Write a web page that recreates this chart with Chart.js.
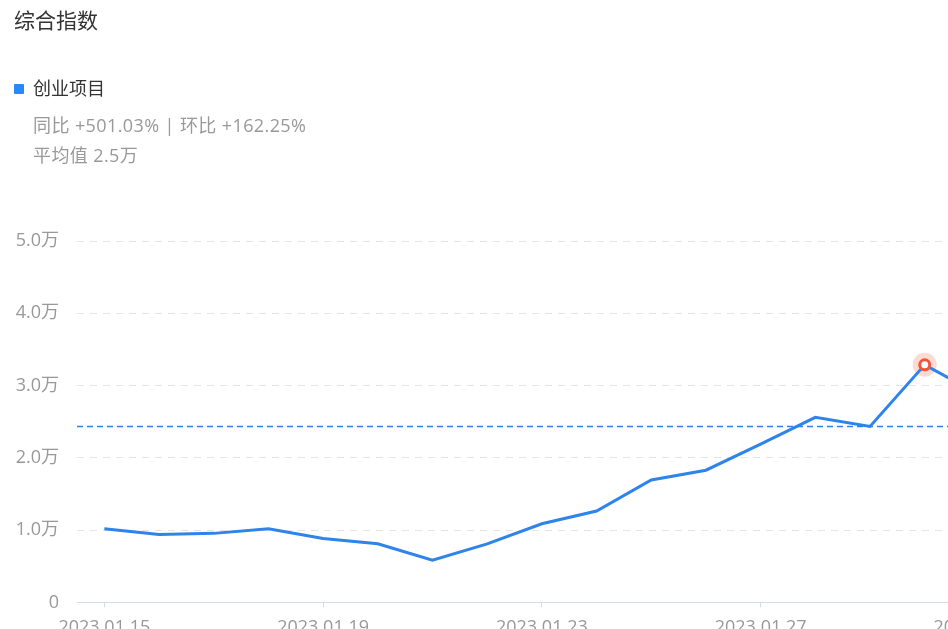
<!DOCTYPE html>
<html>
<head>
<meta charset="utf-8">
<script src="https://cdn.jsdelivr.net/npm/chart.js@4/dist/chart.umd.min.js"></script>
<style>
  body { margin: 0; width: 948px; height: 629px; overflow: hidden; background: #fff;
         font-family: "Open Sans", "Noto Sans CJK SC", sans-serif; position: relative; }
  .titulo { position: absolute; left: 14px; top: 5px; font-size: 21px; line-height: 30px; color: #333; }
  .leyenda { position: absolute; left: 14px; top: 76px; font-size: 18px; line-height: 24px; color: #333; }
  .leyenda i { display: inline-block; width: 10px; height: 10px; background: #2e86f5; border-radius: 1px;
               margin-right: 9px; vertical-align: 1px; }
  .info { position: absolute; left: 33px; font-size: 18px; line-height: 24px; color: #999; letter-spacing: 0.4px; }
  #wrap { position: absolute; left: 0; top: 0; width: 1036px; height: 660px; }
</style>
</head>
<body>
<div id="wrap"><canvas id="grafico"></canvas></div>
<div class="titulo">综合指数</div>
<div class="leyenda"><i></i>创业项目</div>
<div class="info" style="top:113px">同比 +501.03% | 环比 +162.25%</div>
<div class="info" style="top:143px">平均值 2.5万</div>
<script>
const fechas = ['2023.01.15', '2023.01.16', '2023.01.17', '2023.01.18', '2023.01.19', '2023.01.20',
  '2023.01.21', '2023.01.22', '2023.01.23', '2023.01.24', '2023.01.25', '2023.01.26',
  '2023.01.27', '2023.01.28', '2023.01.29', '2023.01.30', '2023.01.31'];
const valores = [10200, 9400, 9550, 10200, 8850, 8100, 5830, 8100, 10880, 12640, 16940, 18290,
  21900, 25600, 24350, 32870, 28750];
const promedio = 24450;
const marcado = 15;
const yTicks = [0, 10000, 20000, 30000, 40000, 50000];

const fuente = '"Open Sans", "Noto Sans CJK SC", sans-serif';

function etiquetaY(v) {
  return v === 0 ? '0' : (v / 10000).toFixed(1) + '万';
}

const lineaPromedio = {
  id: 'lineaPromedio',
  beforeDatasetsDraw(chart) {
    const { ctx, chartArea, scales } = chart;
    const y = Math.round(scales.y.getPixelForValue(promedio)) + 0.5;
    ctx.save();
    ctx.strokeStyle = '#2f80ed';
    ctx.lineWidth = 1.5;
    ctx.setLineDash([6, 4]);
    ctx.beginPath();
    ctx.moveTo(chartArea.left, y);
    ctx.lineTo(chartArea.right, y);
    ctx.stroke();
    ctx.restore();
  }
};

const ctx = document.getElementById('grafico').getContext('2d');
new Chart(ctx, {
  type: 'line',
  data: {
    labels: fechas,
    datasets: [{
      label: '创业项目',
      data: valores,
      borderColor: '#2e83ec',
      borderWidth: 3,
      tension: 0,
      fill: false,
      pointRadius: c => c.dataIndex === marcado ? 5 : 0,
      pointBackgroundColor: '#fff',
      pointBorderColor: '#f0573a',
      pointBorderWidth: 3
    }, {
      label: 'halo',
      data: valores.map((v, i) => i === marcado ? v : null),
      showLine: false,
      pointRadius: 12,
      pointBackgroundColor: 'rgba(245, 110, 80, 0.25)',
      pointBorderWidth: 0
    }]
  },
  options: {
    responsive: true,
    maintainAspectRatio: false,
    animation: false,
    events: [],
    layout: { padding: { left: 0, top: 241, right: 24, bottom: 11 } },
    plugins: { legend: { display: false }, tooltip: { enabled: false } },
    scales: {
      x: {
        offset: true,
        grid: { display: true, drawOnChartArea: false, drawTicks: true, tickLength: 5, color: '#d3dbe3' },
        border: { display: true, color: '#d3dbe3', width: 1 },
        ticks: {
          autoSkip: false,
          maxRotation: 0,
          color: '#999',
          font: { size: 18, family: fuente },
          padding: 10,
          callback: function (v, i) { return i % 4 === 0 ? fechas[i] : null; }
        }
      },
      y: {
        min: 0,
        max: 50000,
        afterFit: s => { s.width = 77; },
        afterBuildTicks: s => { s.ticks = yTicks.map(v => ({ value: v })); },
        grid: { color: '#e4e4e4', drawTicks: false },
        border: { display: false, dash: [7, 6] },
        ticks: {
          color: '#999',
          padding: 18,
          font: { size: 18, family: fuente },
          callback: v => etiquetaY(v)
        }
      }
    }
  },
  plugins: [lineaPromedio]
});
</script>
</body>
</html>
